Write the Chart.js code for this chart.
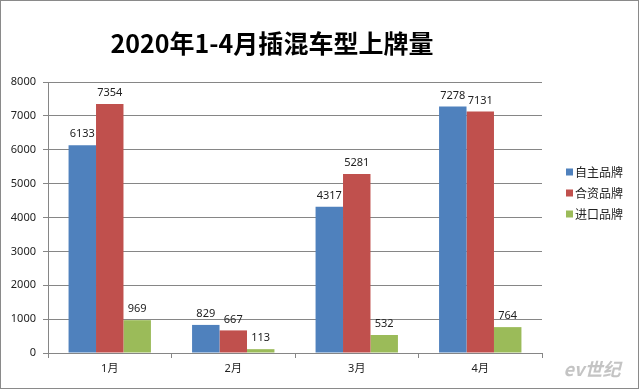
<!DOCTYPE html>
<html>
<head>
<meta charset="utf-8">
<script src="https://cdn.jsdelivr.net/npm/chart.js@4/dist/chart.umd.min.js"></script>
<style>
html,body{margin:0;padding:0;background:#fff;}
#wrap{width:640px;height:390px;position:relative;}
</style>
</head>
<body>
<div id="wrap"><canvas id="c" width="640" height="390"></canvas></div>
<script>
const titleText = '2020年1-4月插混车型上牌量';
const categories = ['1月', '2月', '3月', '4月'];
const seriesNames = ['自主品牌', '合资品牌', '进口品牌'];
const domestic = [6133, 829, 4317, 7278];
const joint = [7354, 667, 5281, 7131];
const imported = [969, 113, 532, 764];
const yTicks = [0, 1000, 2000, 3000, 4000, 5000, 6000, 7000, 8000];
const watermark = 'ev世纪';

const colors = ['#4F81BD', '#C0504D', '#9BBB59'];
const seriesValues = [domestic, joint, imported];
const baseFont = "'Noto Sans', 'Noto Sans CJK SC', sans-serif";
const axisColor = '#868686';

const decor = {
  id: 'decor',
  beforeDraw(chart) {
    const ctx = chart.ctx;
    ctx.save();
    ctx.fillStyle = '#fff';
    ctx.fillRect(0, 0, chart.width, chart.height);
    ctx.restore();
  },
  afterDraw(chart) {
    const ctx = chart.ctx;
    ctx.save();
    // border
    ctx.strokeStyle = '#8a8a8a';
    ctx.lineWidth = 1;
    ctx.strokeRect(0.5, 0.5, 638, 388);
    // title
    ctx.fillStyle = '#000';
    ctx.font = "bold 25px 'Noto Sans CJK SC', sans-serif";
    ctx.textAlign = 'center';
    ctx.textBaseline = 'middle';
    ctx.fillText(titleText, 272, 43);
    // legend
    ctx.font = "12px 'Noto Sans CJK SC', sans-serif";
    ctx.textAlign = 'left';
    const ys = [172, 193, 214];
    chart.data.datasets.forEach((ds, i) => {
      ctx.fillStyle = ds.backgroundColor;
      ctx.fillRect(566, ys[i] - 3.5, 7, 7);
      ctx.fillStyle = '#222';
      ctx.fillText(ds.label, 575, ys[i]);
    });
    // watermark
    ctx.font = "italic bold 18px 'Noto Sans CJK SC', sans-serif";
    ctx.fillStyle = '#c4c4c4';
    ctx.textAlign = 'center';
    ctx.fillText(watermark, 592, 369);
    ctx.restore();
  },
  afterDatasetsDraw(chart) {
    const ctx = chart.ctx;
    ctx.save();
    ctx.font = '11px ' + baseFont;
    ctx.fillStyle = '#222';
    ctx.textAlign = 'center';
    ctx.textBaseline = 'middle';
    chart.data.datasets.forEach((ds, i) => {
      const meta = chart.getDatasetMeta(i);
      meta.data.forEach((bar, j) => {
        ctx.fillText(String(ds.data[j]), bar.x, bar.y - 11);
      });
    });
    ctx.restore();
  }
};

new Chart(document.getElementById('c'), {
  type: 'bar',
  data: {
    labels: categories,
    datasets: seriesNames.map((n, i) => ({
      label: n,
      data: seriesValues[i],
      backgroundColor: colors[i],
      borderWidth: 0,
      barPercentage: 1.0,
      categoryPercentage: 0.667
    }))
  },
  options: {
    responsive: false,
    animation: false,
    events: [],
    layout: { padding: { left: 8, right: 98, top: 82, bottom: 7 } },
    plugins: { legend: { display: false }, title: { display: false }, tooltip: { enabled: false } },
    scales: {
      x: {
        grid: { display: true, drawOnChartArea: false, drawTicks: true, tickLength: 5, offset: true, color: axisColor },
        border: { display: true, color: axisColor },
        ticks: { color: '#222', font: { size: 11, family: baseFont }, padding: 4 },
        afterFit(s) { s.height = 30; }
      },
      y: {
        min: 0, max: 8000,
        afterBuildTicks(s) { s.ticks = yTicks.map(v => ({ value: v })); },
        grid: { color: axisColor, tickLength: 5 },
        border: { display: true, color: axisColor },
        ticks: { color: '#222', font: { size: 11, family: baseFont }, padding: 7, callback: (v) => String(v) },
        afterFit(s) { s.width = 40; }
      }
    }
  },
  plugins: [decor]
});
</script>
</body>
</html>
